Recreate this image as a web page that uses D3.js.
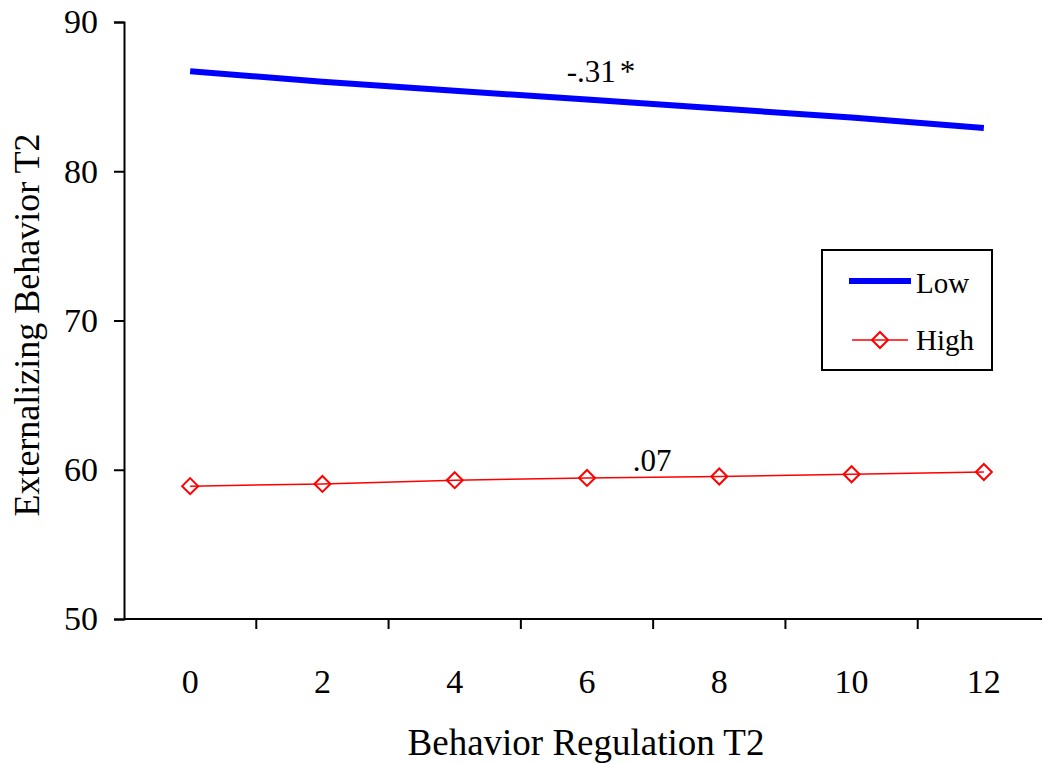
<!DOCTYPE html>
<html lang="en">
<head>
<meta charset="UTF-8"/>
<title>Externalizing Behavior T2</title>
<script src="https://d3js.org/d3.v7.min.js"></script>
<style>
    body { margin: 0; background: #fff; }
    svg { display: block; font-family: "Liberation Serif", "Times New Roman", serif; }
    .axis path, .axis line { stroke: #000; stroke-width: 2; }
    .axis text { font-family: "Liberation Serif", serif; fill: #000; }
</style>
</head>
<body>
<div id="chart"></div>
<script>
    // data
    var categories = ["0", "2", "4", "6", "8", "10", "12"];
    var lowValues  = [86.7, 86.0, 85.4, 84.8, 84.2, 83.6, 82.9];
    var highValues = [58.9, 59.05, 59.3, 59.45, 59.55, 59.7, 59.85];
    var yTicks = [50, 60, 70, 80, 90];
    var seriesNames = ["Low", "High"];
    var slopeLabels = ["-.31", ".07"];

    var w = 1042;
    var h = 763;

    var svg = d3.select("#chart")
        .append("svg")
        .attr("width", w)
        .attr("height", h);

    var xScale = d3.scaleBand()
        .domain(categories)
        .range([124, 1050]);
    var yScale = d3.scaleLinear()
        .domain([50, 90])
        .range([619, 22]);

    var xAxis = d3.axisBottom(xScale)
        .tickSize(0)
        .tickPadding(50);
    var gx = svg.append("g")
        .attr("class", "axis")
        .attr("transform", "translate(0,619)")
        .call(xAxis);
    gx.select(".domain").attr("d", "M124,0H1050");
    gx.selectAll("text").style("font-size", "34px");
    // ticks between categories
    gx.selectAll(".sep")
        .data(categories.slice(1))
        .enter()
        .append("line")
        .attr("x1", d => xScale(d))
        .attr("x2", d => xScale(d))
        .attr("y1", 0)
        .attr("y2", 10)
        .attr("stroke", "#000")
        .attr("stroke-width", 2);

    var yAxis = d3.axisLeft(yScale)
        .tickValues(yTicks)
        .tickSizeOuter(0)
        .tickSize(10)
        .tickPadding(16);
    var gy = svg.append("g")
        .attr("class", "axis")
        .attr("transform", "translate(124,0)")
        .call(yAxis);
    gy.selectAll("text").style("font-size", "34px");

    var cx = d => xScale(d) + xScale.bandwidth() / 2;

    var line = d3.line()
        .x((d, i) => cx(categories[i]))
        .y(d => yScale(d));

    svg.append("path")
        .datum(lowValues)
        .attr("fill", "none")
        .attr("stroke", "#0000ff")
        .attr("stroke-width", 6)
        .attr("d", line);

    svg.append("path")
        .datum(highValues)
        .attr("fill", "none")
        .attr("stroke", "#ff0000")
        .attr("stroke-width", 1.5)
        .attr("d", line);

    var diamond = "M0,-8L8,0L0,8L-8,0Z";
    svg.selectAll(".mk")
        .data(highValues)
        .enter()
        .append("path")
        .attr("class", "mk")
        .attr("d", diamond)
        .attr("transform", (d, i) => `translate(${cx(categories[i])},${yScale(d)})`)
        .attr("fill", "none")
        .attr("stroke", "#ff0000")
        .attr("stroke-width", 2);

    // slope labels
    var s1 = svg.append("text")
        .attr("x", 601)
        .attr("y", 82)
        .attr("text-anchor", "middle")
        .style("font-size", "31px")
        .text(slopeLabels[0]);
    s1.append("tspan").attr("dx", 4).text("*");
    svg.append("text")
        .attr("x", 652)
        .attr("y", 471)
        .attr("text-anchor", "middle")
        .style("font-size", "31px")
        .text(slopeLabels[1]);

    // axis titles
    svg.append("text")
        .attr("x", 586)
        .attr("y", 755)
        .attr("text-anchor", "middle")
        .style("font-size", "37px")
        .text("Behavior Regulation T2");
    svg.append("text")
        .attr("transform", "translate(39,325) rotate(-90)")
        .attr("text-anchor", "middle")
        .style("font-size", "36px")
        .text("Externalizing Behavior T2");

    // legend
    var legend = svg.append("g");
    legend.append("rect")
        .attr("x", 822)
        .attr("y", 250)
        .attr("width", 170)
        .attr("height", 120)
        .attr("fill", "#fff")
        .attr("stroke", "#000")
        .attr("stroke-width", 2);
    legend.append("line")
        .attr("x1", 849).attr("x2", 911)
        .attr("y1", 281).attr("y2", 281)
        .attr("stroke", "#0000ff")
        .attr("stroke-width", 6);
    legend.append("line")
        .attr("x1", 852).attr("x2", 908)
        .attr("y1", 340).attr("y2", 340)
        .attr("stroke", "#ff0000")
        .attr("stroke-width", 1.5);
    legend.append("path")
        .attr("d", diamond)
        .attr("transform", "translate(880,340)")
        .attr("fill", "none")
        .attr("stroke", "#ff0000")
        .attr("stroke-width", 2);
    legend.selectAll(".lt")
        .data(seriesNames)
        .enter()
        .append("text")
        .attr("x", 916)
        .attr("y", (d, i) => 293 + i * 57)
        .style("font-size", "29px")
        .text(d => d);
</script>
</body>
</html>
